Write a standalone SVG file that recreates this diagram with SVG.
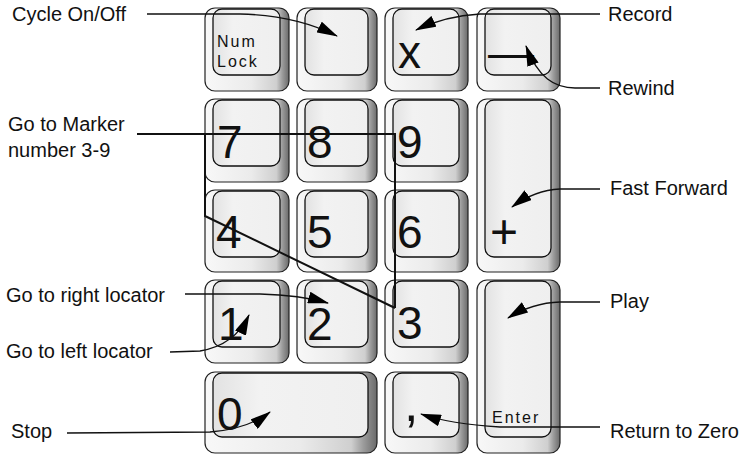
<svg xmlns="http://www.w3.org/2000/svg" width="749" height="454" viewBox="0 0 749 454">
<style>
.body{fill:url(#bodyG);stroke:#222;stroke-width:1.2}
.face{fill:url(#faceG);stroke:#111;stroke-width:1.3}
.big{font-family:"Liberation Sans",Arial,sans-serif;font-size:46px;fill:#111}
.small{font-family:"Liberation Sans",Arial,sans-serif;font-size:16px;letter-spacing:2px;fill:#111}
.lbl{font-family:"Liberation Sans",Arial,sans-serif;font-size:20px;fill:#111}
.con{fill:none;stroke:#111;stroke-width:1.3;marker-end:url(#ah)}
.mk{fill:none;stroke:#111;stroke-width:2}
</style>
<defs>
<linearGradient id="bodyG" x1="0" y1="0" x2="1" y2="0">
<stop offset="0" stop-color="#f8f8f8"/>
<stop offset="0.55" stop-color="#ebebeb"/>
<stop offset="0.85" stop-color="#cfcfcf"/>
<stop offset="0.92" stop-color="#9c9c9c"/>
<stop offset="1" stop-color="#6a6a6a"/>
</linearGradient>
<linearGradient id="faceG" x1="0" y1="0" x2="1" y2="0">
<stop offset="0" stop-color="#e2e2e2"/>
<stop offset="0.3" stop-color="#f2f2f2"/>
<stop offset="1" stop-color="#efefef"/>
</linearGradient>
<marker id="ah" markerUnits="userSpaceOnUse" markerWidth="22" markerHeight="12" refX="20" refY="6" orient="auto">
<path d="M0,0 L21,6 L0,12 z" fill="#000"/>
</marker>
</defs>
<rect width="749" height="454" fill="#fff"/>

<g id="key-numlock"><rect class="body" x="205" y="8" width="84" height="83" rx="10"/><rect class="face" x="213" y="9" width="67" height="66" rx="9"/><text class="small" x="217" y="47">Num</text><text class="small" x="217" y="67">Lock</text></g>
<g id="key-slash"><rect class="body" x="297" y="8" width="80" height="83" rx="10"/><rect class="face" x="305" y="9" width="63" height="66" rx="9"/></g>
<g id="key-x"><rect class="body" x="385" y="8" width="83" height="83" rx="10"/><rect class="face" x="393" y="9" width="66" height="66" rx="9"/><text class="big" x="398" y="68">x</text></g>
<g id="key-minus"><rect class="body" x="477" y="8" width="83" height="83" rx="10"/><rect class="face" x="485" y="9" width="66" height="66" rx="9"/><text class="big" x="488" y="68">—</text></g>

<g id="key-7"><rect class="body" x="205" y="99" width="84" height="83" rx="10"/><rect class="face" x="213" y="100" width="67" height="66" rx="9"/><text class="big" x="217" y="158">7</text></g>
<g id="key-8"><rect class="body" x="297" y="99" width="80" height="83" rx="10"/><rect class="face" x="305" y="100" width="63" height="66" rx="9"/><text class="big" x="307" y="158">8</text></g>
<g id="key-9"><rect class="body" x="385" y="99" width="83" height="83" rx="10"/><rect class="face" x="393" y="100" width="66" height="66" rx="9"/><text class="big" x="397" y="158">9</text></g>
<g id="key-plus"><rect class="body" x="477" y="99" width="83" height="173" rx="10"/><rect class="face" x="485" y="100" width="66" height="157" rx="9"/><text class="big" x="490" y="248" style="font-size:48px">+</text></g>

<g id="key-4"><rect class="body" x="205" y="190" width="84" height="82" rx="10"/><rect class="face" x="213" y="191" width="67" height="66" rx="9"/><text class="big" x="216" y="248">4</text></g>
<g id="key-5"><rect class="body" x="297" y="190" width="80" height="82" rx="10"/><rect class="face" x="305" y="191" width="63" height="66" rx="9"/><text class="big" x="307" y="248">5</text></g>
<g id="key-6"><rect class="body" x="385" y="190" width="83" height="82" rx="10"/><rect class="face" x="393" y="191" width="66" height="66" rx="9"/><text class="big" x="397" y="248">6</text></g>

<g id="key-1"><rect class="body" x="205" y="280" width="84" height="83" rx="10"/><rect class="face" x="213" y="281" width="67" height="66" rx="9"/><text class="big" x="218" y="340">1</text></g>
<g id="key-2"><rect class="body" x="297" y="280" width="80" height="83" rx="10"/><rect class="face" x="305" y="281" width="63" height="66" rx="9"/><text class="big" x="307" y="340">2</text></g>
<g id="key-3"><rect class="body" x="385" y="280" width="83" height="83" rx="10"/><rect class="face" x="393" y="281" width="66" height="66" rx="9"/><text class="big" x="397" y="339">3</text></g>
<g id="key-enter"><rect class="body" x="477" y="280" width="83" height="173" rx="10"/><rect class="face" x="485" y="281" width="66" height="156" rx="9"/><text class="small" x="492" y="423">Enter</text></g>

<g id="key-0"><rect class="body" x="205" y="372" width="172" height="81" rx="10"/><rect class="face" x="213" y="373" width="155" height="64" rx="9"/><text class="big" x="217" y="430">0</text></g>
<g id="key-comma"><rect class="body" x="385" y="372" width="83" height="81" rx="10"/><rect class="face" x="393" y="373" width="66" height="64" rx="9"/><text class="big" x="404" y="421" style="font-size:52px">,</text></g>

<g id="connectors">
<path class="con" d="M147,14 L240,14 Q295,15 337,36"/>
<path class="con" d="M600,14 L480,14 Q445,16 416,30"/>
<path class="con" d="M600,88 L575,88 C555,88 538,78 526,46"/>
<path class="con" d="M600,189 L560,189 Q535,190 512,207"/>
<path class="con" d="M600,302 L560,302 Q532,303 508,318"/>
<path class="con" d="M600,427 L500,427 Q450,424 421,414"/>
<path class="con" d="M185,294 L260,294 Q300,295 328,303"/>
<path class="con" d="M170,352 L200,351 Q235,345 249,315"/>
<path class="con" d="M67,433 L210,432 Q248,429 270,412"/>
<path class="mk" d="M137,134 L395,134 L395,308 M205,134 L205,216 L395,308"/>
</g>

<g id="labels">
<text class="lbl" x="12" y="21">Cycle On/Off</text>
<text class="lbl" x="8" y="131">Go to Marker</text>
<text class="lbl" x="8" y="157">number 3-9</text>
<text class="lbl" x="6" y="302">Go to right locator</text>
<text class="lbl" x="6" y="358">Go to left locator</text>
<text class="lbl" x="11" y="438">Stop</text>
<text class="lbl" x="608" y="21">Record</text>
<text class="lbl" x="608" y="95">Rewind</text>
<text class="lbl" x="610" y="195">Fast Forward</text>
<text class="lbl" x="610" y="308">Play</text>
<text class="lbl" x="610" y="438">Return to Zero</text>
</g>
</svg>
